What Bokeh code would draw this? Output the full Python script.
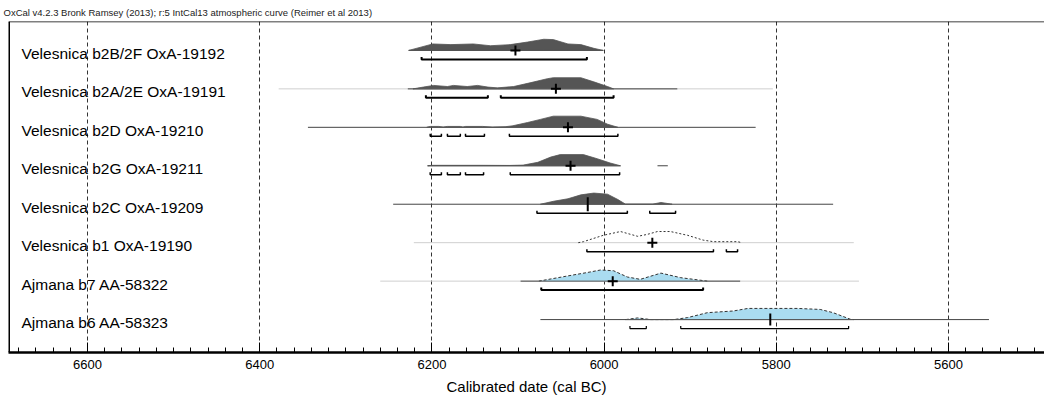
import math
from bokeh.plotting import figure
from bokeh.models import Range1d, SingleIntervalTicker, Span
from bokeh.embed import file_html
from bokeh.resources import INLINE
from bokeh.core.properties import value

# ---------------- data ----------------
title_text = "OxCal v4.2.3 Bronk Ramsey (2013); r:5 IntCal13 atmospheric curve (Reimer et al 2013)"
labels = [
    "Velesnica b2B/2F OxA-19192",
    "Velesnica b2A/2E OxA-19191",
    "Velesnica b2D OxA-19210",
    "Velesnica b2G OxA-19211",
    "Velesnica b2C OxA-19209",
    "Velesnica b1 OxA-19190",
    "Ajmana b7 AA-58322",
    "Ajmana b6 AA-58323",
]
rows = list(range(len(labels)))

# probability distributions (cal BC, relative density)
b2B_years = [6227, 6199, 6178, 6152, 6132, 6109, 6089, 6070, 6059, 6042, 6027, 6012, 6001]
b2B_dens = [0, 58, 52, 58, 42, 52, 75, 100, 97, 58, 52, 19, 0]

b2A_years = [6222, 6210, 6198, 6182, 6175, 6159, 6147, 6135, 6124, 6105, 6085, 6066, 6059, 6027, 6012, 5996, 5989]
b2A_dens = [0, 16, 31, 21, 31, 21, 31, 16, 9, 21, 56, 91, 100, 100, 63, 21, 0]

b2D_years = [6206, 6202, 6192, 6187, 6182, 6167, 6164, 6161, 6141, 6130, 6115, 6106, 6089, 6074, 6059, 6027, 6008, 5996, 5984]
b2D_dens = [0, 8, 8, 2, 8, 8, 2, 8, 8, 2, 5, 14, 43, 71, 100, 100, 71, 28, 0]

b2G_years = [6205, 6200, 6140, 6110, 6094, 6077, 6062, 6051, 6024, 6008, 5993, 5981]
b2G_dens = [0, 4, 4, 3, 6, 31, 78, 100, 100, 63, 25, 0]

b2C_years = [6074, 6059, 6042, 6027, 6012, 5996, 5984, 5975, 5944, 5934, 5921]
b2C_dens = [0, 26, 49, 84, 100, 90, 42, 0, 0, 16, 0]

b1_years = [6030, 6024, 6001, 5981, 5961, 5950, 5938, 5923, 5903, 5885, 5873, 5858, 5845, 5840]
b1_dens = [0, 9, 66, 100, 57, 74, 100, 100, 66, 23, 9, 9, 9, 0]

b7_years = [6076, 6042, 6019, 6004, 5989, 5973, 5958, 5934, 5911, 5880]
b7_dens = [0, 47, 78, 100, 93, 37, 16, 72, 31, 0]

b6_years = [5975, 5961, 5946, 5919, 5903, 5880, 5850, 5833, 5810, 5775, 5749, 5734, 5714, 5710]
b6_dens = [0, 15, 0, 0, 18, 62, 77, 100, 100, 100, 91, 62, 3, 0]

dist_years = [b2B_years, b2A_years, b2D_years, b2G_years, b2C_years, b1_years, b7_years, b6_years]
dist_dens = [b2B_dens, b2A_dens, b2D_dens, b2G_dens, b2C_dens, b1_dens, b7_dens, b6_dens]

# mean of each distribution (cal BC)
means = [6103, 6056, 6042, 6039, 6019, 5944, 5990, 5807]

# 95.4% ranges (cal BC)
range_row = [0, 1, 1, 2, 2, 2, 2, 3, 3, 3, 3, 4, 4, 5, 5, 6, 7, 7]
range_from = [6212, 6207, 6120, 6202, 6182, 6161, 6110, 6202, 6182, 6161, 6109, 6078, 5947, 6020, 5858, 6073, 5970, 5911]
range_to = [6020, 6135, 5989, 6189, 6167, 6139, 5984, 6189, 6167, 6140, 5982, 5973, 5917, 5873, 5845, 5885, 5951, 5716]

# extent of the likelihood / posterior tails (cal BC)
light_row = [1, 5, 6]
light_from = [6378, 6221, 6260]
light_to = [5804, 5710, 5704]
dark_row = [0, 1, 2, 3, 3, 4, 6, 6, 7]
dark_from = [6227, 6228, 6344, 6205, 5938, 6245, 6097, 5880, 6074]
dark_to = [6001, 5915, 5824, 5981, 5926, 5734, 6076, 5842, 5553]

# x axis
x_start, x_end = 6691.8, 5488.5
tick_interval = 200

# ---------------- styling ----------------
fill_styles = ["dark", "dark", "dark", "dark", "dark", "outline", "blue", "blue"]
mean_markers = ["cross", "cross", "cross", "cross", "dash", "cross", "cross", "dash"]
mean_angles = [0, 0, 0, 0, math.pi / 2, 0, 0, math.pi / 2]
mean_sizes = [10, 10, 10, 10, 14, 10, 10, 12]
range_widths = [2, 2, 2, 1.5, 1.5, 1.5, 1.5, 1.5, 1.5, 1.5, 1.5, 1.5, 1.5, 1.5, 1.5, 2, 1.2, 1.2]

FONT = "Liberation Sans"
DARK = "#555555"
BLUE = "#aadcf0"
HEIGHT = 0.29      # peak height in row units
RANGE_DY = 0.233   # offset of range bars under baseline
CAP = 0.065
Y_TOP, Y_BOTTOM = -0.752, 7.856

p = figure(width=1044, height=399, output_backend="svg", toolbar_location=None,
           x_range=Range1d(x_start, x_end), y_range=Range1d(Y_BOTTOM, Y_TOP),
           y_axis_location=None, min_border_left=8, min_border_right=0,
           min_border_top=20, min_border_bottom=47)
p.outline_line_color = None
p.background_fill_color = "white"
p.border_fill_color = "white"
p.ygrid.visible = False

p.title.text = title_text
p.title.text_font = FONT
p.title.text_font_size = "9.5px"
p.title.text_font_style = "normal"
p.title.text_color = "#222222"
p.title.standoff = 8
p.title.offset = -5

ticker = SingleIntervalTicker(interval=tick_interval, num_minor_ticks=10)
ax = p.xaxis[0]
ax.ticker = ticker
ax.axis_line_width = 2.5
ax.axis_line_color = "black"
ax.major_tick_in = 10
ax.major_tick_out = 0
ax.minor_tick_in = 5
ax.minor_tick_out = 0
ax.major_tick_line_color = "black"
ax.minor_tick_line_color = "black"
ax.major_label_text_font = FONT
ax.major_label_text_font_size = "13px"
ax.major_label_text_color = "black"
ax.major_label_standoff = 7
ax.axis_label = "Calibrated date (cal BC)"
ax.axis_label_text_font = FONT
ax.axis_label_text_font_size = "15px"
ax.axis_label_text_font_style = "normal"
ax.axis_label_text_color = "black"
ax.axis_label_standoff = 6

p.xgrid.ticker = ticker
p.xgrid.grid_line_color = "#333333"
p.xgrid.grid_line_dash = "4 3"
p.xgrid.grid_line_width = 1

# frame borders (left thick, top thin)
p.add_layout(Span(location=x_start, dimension="height", line_color="black", line_width=3))
p.add_layout(Span(location=Y_TOP, dimension="width", line_color="black", line_width=1.5))

# baselines
for r, a, b in zip(light_row, light_from, light_to):
    p.line([a, b], [r, r], line_color="#cfcfcf", line_width=1)
for r, a, b in zip(dark_row, dark_from, dark_to):
    p.line([a, b], [r, r], line_color="#444444", line_width=1)

# distributions
for r, yrs, dens, style in zip(rows, dist_years, dist_dens, fill_styles):
    ys = [r - d / 100 * HEIGHT for d in dens]
    if style == "dark":
        p.patch(yrs + yrs[::-1], ys + [r] * len(yrs), fill_color=DARK, line_color=DARK, line_width=0.8)
    elif style == "blue":
        p.patch(yrs + yrs[::-1], ys + [r] * len(yrs), fill_color=BLUE, line_color=None)
        p.line(yrs, ys, line_color="#333333", line_width=1, line_dash="3 2")
        p.line([yrs[0], yrs[-1]], [r, r], line_color="#555555", line_width=1)
    else:
        p.line(yrs, ys, line_color="#333333", line_width=1, line_dash="2 2")

# ranges
for r, a, b, w in zip(range_row, range_from, range_to, range_widths):
    y = r + RANGE_DY
    p.line([a, a, b, b], [y - CAP, y, y, y - CAP], line_color="black", line_width=w)

# means
p.scatter(x=means, y=rows, marker=mean_markers, angle=mean_angles, size=mean_sizes,
          line_color="black", line_width=2)

# row labels
p.text(x=[x_start] * len(rows), y=rows, text=labels, x_offset=13, y_offset=3,
       text_baseline="middle", text_align="left", text_font=value(FONT),
       text_font_size="15.5px", text_color="black")

open("out.html", "w").write(file_html(p, INLINE))
